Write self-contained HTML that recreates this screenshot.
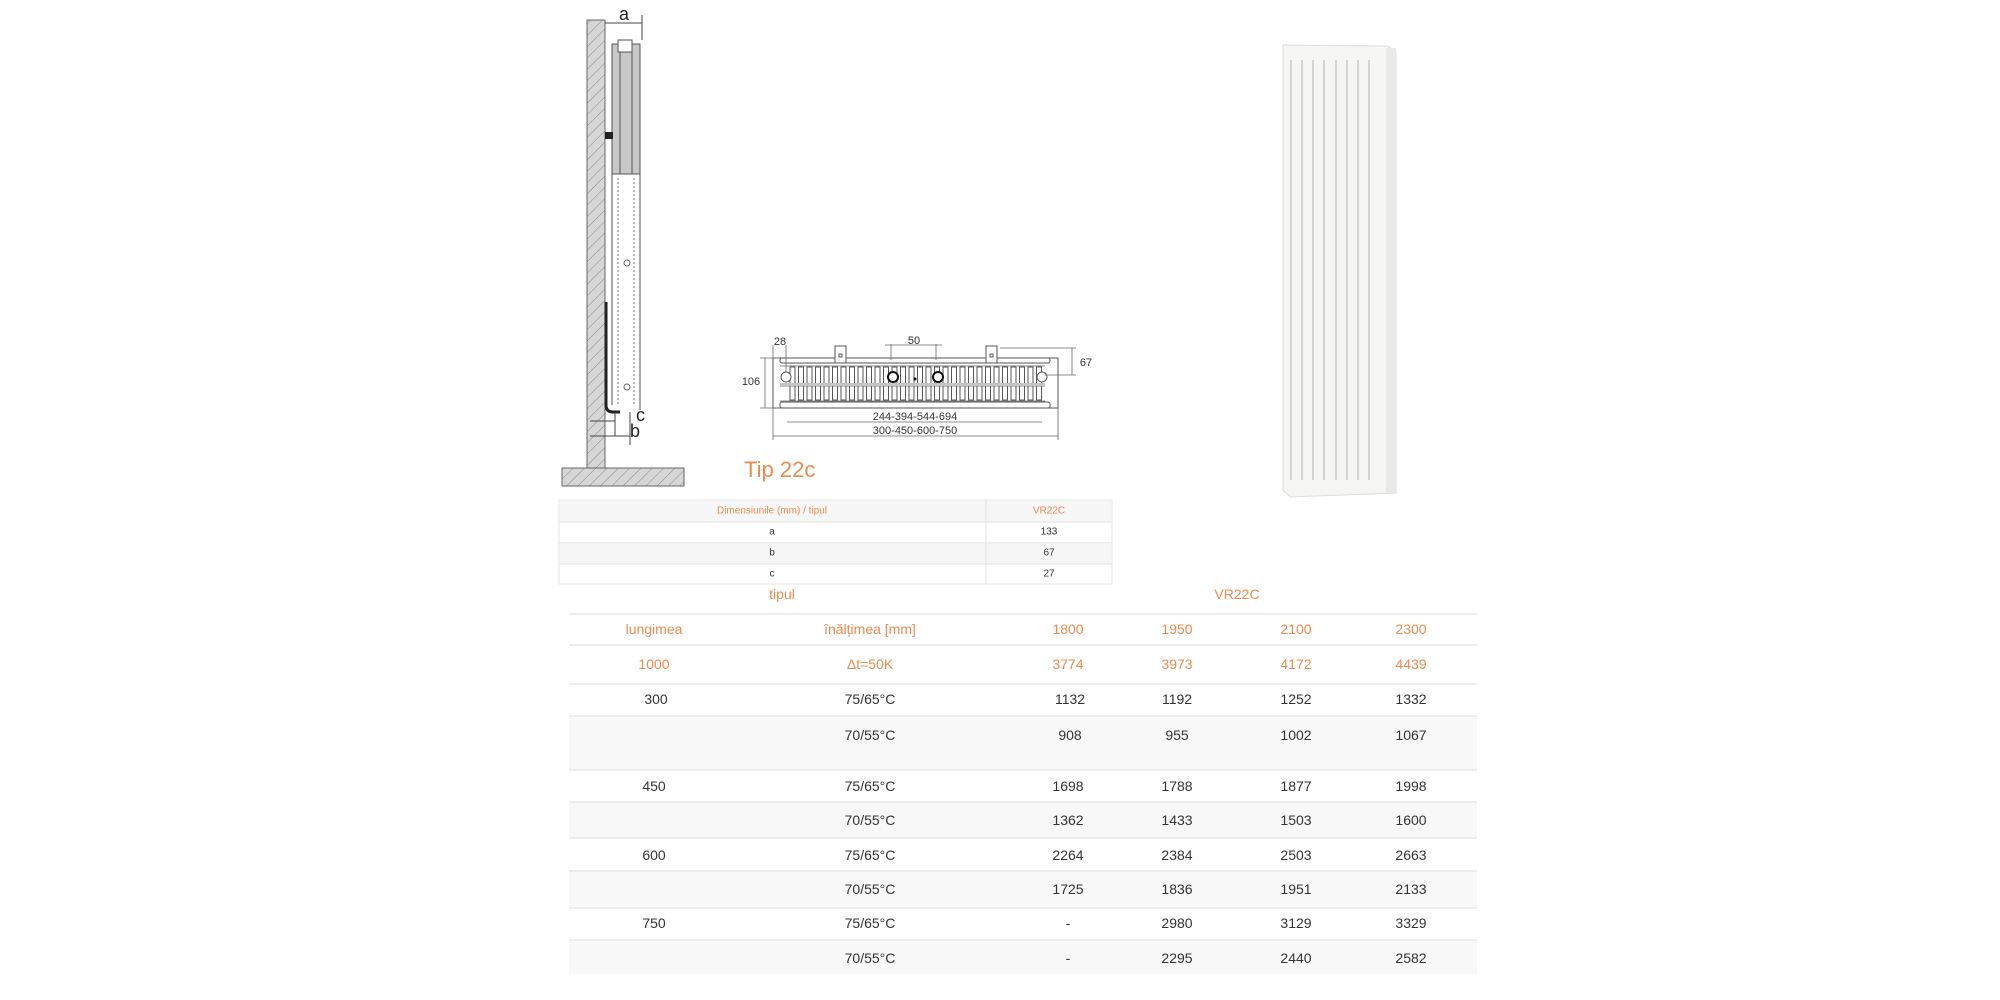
<!DOCTYPE html>
<html><head><meta charset="utf-8"><style>
body{margin:0;width:2000px;height:1000px;background:#fff;position:relative;overflow:hidden;font-family:"Liberation Sans",sans-serif;}
.t{position:absolute;transform:translate(-50%,-50%);white-space:nowrap;font-size:14px;color:#333;}
.o{color:#ef8a4e;}
.hl{position:absolute;left:569px;width:908px;height:2px;background:#ececec;}
.bg{position:absolute;left:569px;width:908px;background:#f8f8f8;}
</style></head><body>
<svg width="2000" height="1000" style="position:absolute;left:0;top:0">
<defs><pattern id="h" width="8" height="8" patternUnits="userSpaceOnUse" patternTransform="rotate(45)"><rect width="8" height="8" fill="#d6d6d6"/><line x1="0" y1="0" x2="0" y2="8" stroke="#888" stroke-width="1"/></pattern></defs>
<!-- wall -->
<rect x="587" y="20" width="18" height="448" fill="url(#h)" stroke="#666"/>
<rect x="562" y="468" width="122" height="18" fill="url(#h)" stroke="#666"/>
<!-- side radiator -->
<rect x="612" y="44" width="28" height="130" fill="#c8c8c8" stroke="#555"/>
<line x1="620" y1="44" x2="620" y2="174" stroke="#555"/><line x1="632" y1="44" x2="632" y2="174" stroke="#555"/>
<rect x="618" y="40" width="14" height="12" fill="#fff" stroke="#555"/>
<line x1="612" y1="174" x2="612" y2="405" stroke="#555"/><line x1="640" y1="170" x2="640" y2="410" stroke="#555"/>
<line x1="618" y1="178" x2="618" y2="405" stroke="#777" stroke-dasharray="2,2"/><line x1="634" y1="178" x2="634" y2="405" stroke="#777" stroke-dasharray="2,2"/>
<circle cx="627" cy="263" r="3" fill="none" stroke="#666"/><circle cx="627" cy="387" r="3" fill="none" stroke="#666"/>
<rect x="605" y="132" width="8" height="7" fill="#222"/>
<path d="M606 302 V405 Q606 412 613 412 H620" fill="none" stroke="#222" stroke-width="3"/>
<line x1="605" y1="23" x2="642" y2="23" stroke="#444"/><text x="624" y="20" font-size="18" text-anchor="middle" fill="#222">a</text>
<line x1="642" y1="15" x2="642" y2="40" stroke="#444"/>
<line x1="590" y1="421" x2="615" y2="421" stroke="#444"/><line x1="590" y1="436" x2="630" y2="436" stroke="#444"/>
<line x1="615" y1="412" x2="615" y2="436" stroke="#444"/><line x1="630" y1="412" x2="630" y2="445" stroke="#444"/>
<text x="636" y="421" font-size="18" fill="#222">c</text><text x="630" y="437" font-size="18" fill="#222">b</text>
<!-- front drawing -->
<g stroke="#555" fill="none">
<rect x="773" y="358" width="285" height="50"/>
<rect x="780" y="358" width="270" height="5" rx="2"/>
<rect x="780" y="402" width="270" height="6" rx="2"/>
<rect x="835" y="346" width="11" height="17" fill="#fff"/><rect x="986" y="346" width="11" height="17" fill="#fff"/>
<rect x="839" y="354" width="3" height="3"/><rect x="990" y="354" width="3" height="3"/>
<path d="M780 366 h265 M780 384 h265 M780 386 h265 M780 401 h265" stroke="#888"/>
</g>
<g stroke="#555" fill="none" id="fins"></g>
<circle cx="786" cy="377" r="5" fill="#fff" stroke="#555"/><circle cx="1042" cy="377" r="5" fill="#fff" stroke="#555"/>
<circle cx="893" cy="377" r="5" fill="#fff" stroke="#111" stroke-width="2"/><circle cx="938" cy="377" r="5" fill="#fff" stroke="#111" stroke-width="2"/>
<circle cx="915" cy="379" r="1.5" fill="#111"/>
<g stroke="#666" stroke-width="0.8">
<line x1="787" y1="422" x2="1042" y2="422"/><line x1="773" y1="436" x2="1058" y2="436"/>
<line x1="773" y1="408" x2="773" y2="440"/><line x1="1058" y1="408" x2="1058" y2="440"/>
<line x1="891" y1="344" x2="891" y2="360"/><line x1="936" y1="344" x2="936" y2="360"/><line x1="885" y1="345" x2="942" y2="345"/>
<line x1="1072" y1="348" x2="1072" y2="375"/><line x1="1000" y1="348" x2="1076" y2="348"/><line x1="1045" y1="375" x2="1076" y2="375"/>
<line x1="765" y1="358" x2="765" y2="408"/><line x1="760" y1="358" x2="780" y2="358"/><line x1="760" y1="408" x2="780" y2="408"/>
<line x1="773" y1="345" x2="773" y2="358"/><line x1="786" y1="345" x2="786" y2="372"/>
</g>
<g font-size="11" fill="#333" text-anchor="middle">
<text x="780" y="345">28</text><text x="914" y="344">50</text><text x="1086" y="366">67</text><text x="751" y="385">106</text>
<text x="915" y="420">244-394-544-694</text><text x="915" y="434">300-450-600-750</text>
</g>
<text x="744" y="477" font-size="22" fill="#ef8a4e">Tip 22c</text>
<!-- photo -->
<polygon points="1283,45 1388,46 1396,52 1396,493 1290,497 1283,490" fill="#f5f5f3" stroke="#ddd"/>
<rect x="1386" y="48" width="10" height="445" fill="#e8e8e6"/>
<g stroke="#d2d2d0" stroke-width="2">
<line x1="1291" y1="60" x2="1291" y2="480"/><line x1="1302" y1="60" x2="1302" y2="480"/><line x1="1313" y1="60" x2="1313" y2="480"/><line x1="1324" y1="60" x2="1324" y2="480"/><line x1="1336" y1="60" x2="1336" y2="480"/><line x1="1347" y1="60" x2="1347" y2="480"/><line x1="1358" y1="60" x2="1358" y2="480"/><line x1="1369" y1="60" x2="1369" y2="480"/>
</g>
<!-- small table -->
<rect x="559" y="500" width="553" height="84" fill="#fff" stroke="#e6e6e6"/>
<rect x="560" y="501" width="551" height="21" fill="#f6f6f6"/>
<rect x="560" y="544" width="551" height="20" fill="#f6f6f6"/>
<g stroke="#e2e2e2"><line x1="559" y1="522" x2="1112" y2="522"/><line x1="559" y1="543" x2="1112" y2="543"/><line x1="559" y1="564" x2="1112" y2="564"/><line x1="986" y1="500" x2="986" y2="584"/></g>
</svg>
<div class="t o" style="left:772px;top:511px;font-size:10px">Dimensiunile (mm) / tipul</div>
<div class="t o" style="left:1049px;top:511px;font-size:10px">VR22C</div>
<div class="t" style="left:772px;top:532px;font-size:10px">a</div><div class="t" style="left:1049px;top:532px;font-size:10px">133</div>
<div class="t" style="left:772px;top:553px;font-size:10px">b</div><div class="t" style="left:1049px;top:553px;font-size:10px">67</div>
<div class="t" style="left:772px;top:574px;font-size:10px">c</div><div class="t" style="left:1049px;top:574px;font-size:10px">27</div>

<div class="bg" style="top:716px;height:53px"></div>
<div class="bg" style="top:802px;height:36px"></div>
<div class="bg" style="top:871px;height:37px"></div>
<div class="bg" style="top:940px;height:34px"></div>
<div class="hl" style="top:613px"></div><div class="hl" style="top:644px"></div><div class="hl" style="top:683px"></div><div class="hl" style="top:715px"></div><div class="hl" style="top:769px"></div><div class="hl" style="top:801px"></div><div class="hl" style="top:837px"></div><div class="hl" style="top:870px"></div><div class="hl" style="top:907px"></div><div class="hl" style="top:939px"></div>

<div class="t o" style="left:782px;top:594px">tipul</div><div class="t o" style="left:1237px;top:594px">VR22C</div>
<div class="t o" style="left:654px;top:629px">lungimea</div><div class="t o" style="left:870px;top:629px">înălțimea [mm]</div><div class="t o" style="left:1068px;top:629px">1800</div><div class="t o" style="left:1177px;top:629px">1950</div><div class="t o" style="left:1296px;top:629px">2100</div><div class="t o" style="left:1411px;top:629px">2300</div>
<div class="t o" style="left:654px;top:664px">1000</div><div class="t o" style="left:870px;top:664px">Δt=50K</div><div class="t o" style="left:1068px;top:664px">3774</div><div class="t o" style="left:1177px;top:664px">3973</div><div class="t o" style="left:1296px;top:664px">4172</div><div class="t o" style="left:1411px;top:664px">4439</div>

<div class="t" style="left:656px;top:699px">300</div><div class="t" style="left:870px;top:699px">75/65°C</div><div class="t" style="left:1070px;top:699px">1132</div><div class="t" style="left:1177px;top:699px">1192</div><div class="t" style="left:1296px;top:699px">1252</div><div class="t" style="left:1411px;top:699px">1332</div>
<div class="t" style="left:870px;top:735px">70/55°C</div><div class="t" style="left:1070px;top:735px">908</div><div class="t" style="left:1177px;top:735px">955</div><div class="t" style="left:1296px;top:735px">1002</div><div class="t" style="left:1411px;top:735px">1067</div>
<div class="t" style="left:654px;top:786px">450</div><div class="t" style="left:870px;top:786px">75/65°C</div><div class="t" style="left:1068px;top:786px">1698</div><div class="t" style="left:1177px;top:786px">1788</div><div class="t" style="left:1296px;top:786px">1877</div><div class="t" style="left:1411px;top:786px">1998</div>
<div class="t" style="left:870px;top:820px">70/55°C</div><div class="t" style="left:1068px;top:820px">1362</div><div class="t" style="left:1177px;top:820px">1433</div><div class="t" style="left:1296px;top:820px">1503</div><div class="t" style="left:1411px;top:820px">1600</div>
<div class="t" style="left:654px;top:855px">600</div><div class="t" style="left:870px;top:855px">75/65°C</div><div class="t" style="left:1068px;top:855px">2264</div><div class="t" style="left:1177px;top:855px">2384</div><div class="t" style="left:1296px;top:855px">2503</div><div class="t" style="left:1411px;top:855px">2663</div>
<div class="t" style="left:870px;top:889px">70/55°C</div><div class="t" style="left:1068px;top:889px">1725</div><div class="t" style="left:1177px;top:889px">1836</div><div class="t" style="left:1296px;top:889px">1951</div><div class="t" style="left:1411px;top:889px">2133</div>
<div class="t" style="left:654px;top:923px">750</div><div class="t" style="left:870px;top:923px">75/65°C</div><div class="t" style="left:1068px;top:923px">-</div><div class="t" style="left:1177px;top:923px">2980</div><div class="t" style="left:1296px;top:923px">3129</div><div class="t" style="left:1411px;top:923px">3329</div>
<div class="t" style="left:870px;top:958px">70/55°C</div><div class="t" style="left:1068px;top:958px">-</div><div class="t" style="left:1177px;top:958px">2295</div><div class="t" style="left:1296px;top:958px">2440</div><div class="t" style="left:1411px;top:958px">2582</div>
<script>
var g=document.getElementById('fins'),s='';
for(var x=790;x<1040;x+=8.5){s+='<path d="M'+x+' 383 V367 h5 V383"/><path d="M'+x+' 386 V400 h5 V386"/>';}
g.innerHTML=s;
</script>
</body></html>
